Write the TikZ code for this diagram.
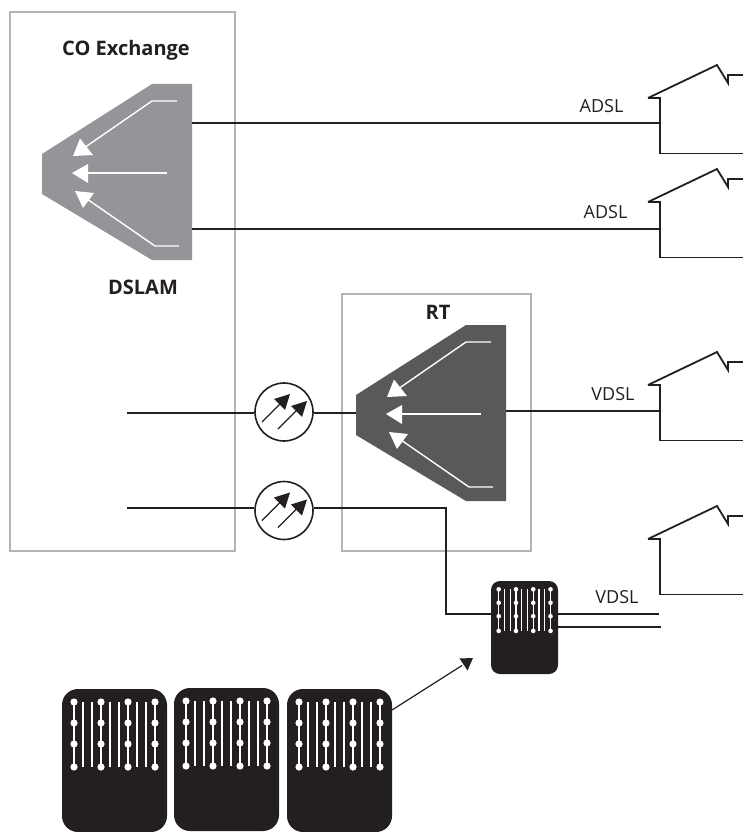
\documentclass[tikz,border=0pt]{standalone}
\usepackage{fontspec}
\setmainfont{Open Sans}
\definecolor{frame}{HTML}{B4B4B6}
\definecolor{dslamgray}{HTML}{939598}
\definecolor{rtgray}{HTML}{58595B}
\definecolor{ink}{HTML}{231F20}
\tikzset{
  wire/.style={draw=ink,line width=1.5pt},
  framebox/.style={draw=frame,line width=1.6pt,fill=none,inner sep=0pt,outer sep=0pt,anchor=north west},
  amp/.style={circle,draw=ink,line width=1.6pt,fill=white,minimum size=58pt,inner sep=0pt},
  housepath/.style={draw=ink,line width=1.8pt,miter limit=10},
  plain/.style={font=\fontsize{18}{20}\selectfont,text=ink,inner sep=0pt},
  strong/.style={font=\bfseries\fontsize{20}{23}\selectfont,text=ink,inner sep=0pt},
  cabinet/.style={fill=ink,rounded corners=#1,inner sep=0pt,outer sep=0pt,anchor=north west,draw=none},
  whiteline/.style={draw=white,line width=1.4pt},
}
\newcommand{\dslamshape}[3]{%
  \begin{scope}[shift={(#1,#2)}]
    \fill[#3] (152,84) -- (192,84) -- (192,260) -- (152,260) -- (42,194) -- (42,154) -- cycle;
    \draw[whiteline] (177,101) -- (152,101) -- (84,148);
    \fill[white] (73,156) -- (80,138.5) -- (93,155) -- cycle;
    \draw[whiteline] (167,173) -- (86,173);
    \fill[white] (72,173) -- (88,164) -- (88,183) -- cycle;
    \draw[whiteline] (179,246) -- (155,246) -- (87,199);
    \fill[white] (75,191) -- (94,193) -- (83,208) -- cycle;
  \end{scope}}
\newcommand{\ampglyph}[2]{%
  \begin{scope}[shift={(#1,#2)}]
    \draw[draw=ink,line width=1.2pt] (-22,10) -- (-2,-10);
    \fill[ink] (6,-18) -- (-10,-13) -- (1,-2) -- cycle;
    \draw[draw=ink,line width=1.2pt] (-6,17) -- (14,-3);
    \fill[ink] (23,-11) -- (7,-6) -- (18,5) -- cycle;
  \end{scope}}
\newcommand{\rackbars}[3]{%
  \begin{scope}[shift={(#1,#2)},scale=#3]
    \foreach \t in {21,30,48,57,75,84}
      \draw[draw=white,line width=#3*1.6pt] (\t,13) -- (\t,78);
    \foreach \s in {12,39,66,93}{
      \draw[draw=white,line width=#3*1.9pt] (\s,13) -- (\s,78);
      \foreach \r in {13,34,55,78}
        \fill[white] (\s,\r) circle (3.6);
    }
  \end{scope}}
\newcommand{\house}[2]{%
  \draw[housepath] (648,#2) -- (660,#2) -- (660,#2+55.5) -- (743,#2+55.5);
  \draw[housepath] (648,#2) -- (717,#2-33) -- (728,#2-15) -- (728,#2-23) -- (743,#2-23);}
\begin{document}
\begin{tikzpicture}[x=1pt,y=-1pt]
\useasboundingbox (0,0) rectangle (743,832);
\node[framebox,minimum width=225pt,minimum height=539pt] (co) at (10,12) {};
\node[framebox,minimum width=189pt,minimum height=257pt] (rt) at (342,294) {};
\node[strong] (colabel) at (126,50) {CO Exchange};
\node[strong] (dslamlabel) at (143,287) {DSLAM};
\node[strong] (rtlabel) at (438,312) {RT};
\dslamshape{0}{0}{dslamgray}
\dslamshape{314}{241}{rtgray}
\coordinate (dslamA) at (192,123);
\coordinate (dslamB) at (192,229);
\coordinate (rtIn) at (356,413);
\coordinate (rtOut) at (506,411);
\house{hA}{98}
\house{hB}{202}
\house{hC}{385}
\house{hD}{539}
\coordinate (hAin) at (660,123);
\coordinate (hBin) at (660,229);
\coordinate (hCin) at (660,411);
\draw[wire] (dslamA) -- (hAin);
\draw[wire] (dslamB) -- (hBin);
\draw[wire] (rtOut) -- (hCin);
\node[plain] (adslA) at (601.5,106) {ADSL};
\node[plain] (adslB) at (605.5,212) {ADSL};
\node[plain] (vdslA) at (613,394) {VDSL};
\node[plain] (vdslB) at (617,597) {VDSL};
\node[cabinet=9pt,minimum width=67pt,minimum height=93pt] (small) at (491,581) {};
\rackbars{491}{581}{0.64}
\node[cabinet=16pt,minimum width=105pt,minimum height=143pt] (cabA) at (62,689) {};
\node[cabinet=16pt,minimum width=105pt,minimum height=143pt] (cabB) at (174,688) {};
\node[cabinet=16pt,minimum width=105pt,minimum height=143pt] (cabC) at (287,689) {};
\rackbars{62}{689}{1}
\rackbars{174}{688}{1}
\rackbars{287}{689}{1}
\coordinate (srcA) at (127,413);
\coordinate (srcB) at (127,508);
\node[amp] (ampA) at (284,412) {};
\node[amp] (ampB) at (284,510.5) {};
\ampglyph{284}{412}
\ampglyph{284}{510.5}
\draw[wire] (srcA) -- (ampA.west |- srcA);
\draw[wire] (ampA.east |- rtIn) -- (rtIn);
\draw[wire] (srcB) -- (ampB.west |- srcB);
\draw[wire] (ampB.east |- srcB) -| (446,614) -- (small.west |- 0,614);
\coordinate (outA) at (659,614);
\coordinate (outB) at (661,627);
\draw[wire] (small.east |- outA) -- (outA);
\draw[wire] (small.east |- outB) -- (outB);
\coordinate (feedEnd) at (462,665.5);
\draw[draw=ink,line width=1.2pt] (cabC.east |- 0,710) -- (feedEnd);
\fill[ink] (473,658) -- (459.5,658.5) -- (467.5,670.5) -- cycle;
\end{tikzpicture}
\end{document}
